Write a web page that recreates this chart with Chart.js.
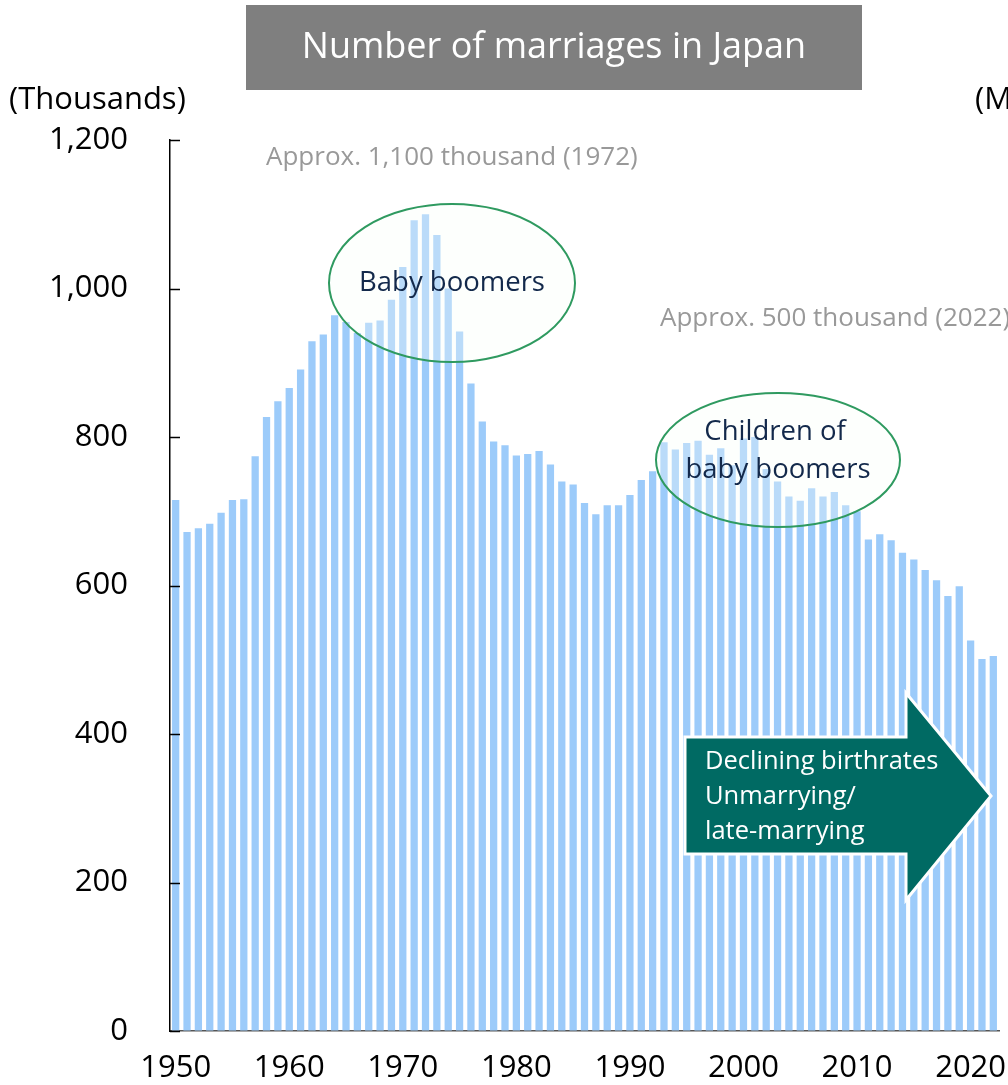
<!DOCTYPE html>
<html>
<head>
<meta charset="utf-8">
<script src="https://cdn.jsdelivr.net/npm/chart.js@4.4.1/dist/chart.umd.min.js"></script>
<style>
  html, body { margin: 0; padding: 0; background: #fff; }
  #wrap { width: 1008px; height: 1085px; }
</style>
</head>
<body>
<div id="wrap"><canvas id="c" width="1008" height="1085"></canvas></div>
<script>
// ── Dados: casamentos no Japão (milhares) ─────────────────────
const years = [
  '1950','1951','1952','1953','1954','1955','1956','1957','1958','1959',
  '1960','1961','1962','1963','1964','1965','1966','1967','1968','1969',
  '1970','1971','1972','1973','1974','1975','1976','1977','1978','1979',
  '1980','1981','1982','1983','1984','1985','1986','1987','1988','1989',
  '1990','1991','1992','1993','1994','1995','1996','1997','1998','1999',
  '2000','2001','2002','2003','2004','2005','2006','2007','2008','2009',
  '2010','2011','2012','2013','2014','2015','2016','2017','2018','2019',
  '2020','2021','2022'
];
const marriages = [
  715, 672, 677, 683, 698, 715, 716, 774, 827, 848,
  866, 891, 929, 938, 964, 955, 940, 954, 957, 985,
  1029, 1092, 1100, 1072, 1000, 942, 872, 821, 794, 789,
  775, 777, 781, 763, 740, 736, 711, 696, 708, 708,
  722, 742, 754, 793, 783, 792, 795, 776, 785, 762,
  798, 800, 757, 740, 720, 714, 731, 720, 726, 708,
  700, 662, 669, 661, 644, 635, 621, 607, 586, 599,
  526, 501, 505
];
const yTicks = [0, 200, 400, 600, 800, 1000, 1200];

const FONT = '"Open Sans", "DejaVu Sans", sans-serif';
const BAR_COLOR = '#9ccbfa';
const GREEN = '#2f9a60';
const NAVY = '#13294b';
const TEAL = '#006a63';

// ── Decorações (título, elipses, seta, notas) ─────────────────
function ellipse(ctx, cx, cy, rx, ry) {
  ctx.save();
  ctx.beginPath();
  ctx.ellipse(cx, cy, rx, ry, 0, 0, Math.PI * 2);
  ctx.fillStyle = 'rgba(250,255,250,0.32)';
  ctx.fill();
  ctx.lineWidth = 2;
  ctx.strokeStyle = GREEN;
  ctx.stroke();
  ctx.restore();
}

const decoPlugin = {
  id: 'deco',
  beforeDraw(chart) {
    const { ctx } = chart;
    ctx.save();
    // caixa do título
    ctx.fillStyle = '#7f7f7f';
    ctx.fillRect(246, 5, 616, 85);
    ctx.fillStyle = '#fff';
    ctx.font = `36px ${FONT}`;
    ctx.textAlign = 'center';
    ctx.textBaseline = 'middle';
    ctx.fillText('Number of marriages in Japan', 554, 48);
    // rótulos dos eixos
    ctx.fillStyle = '#000';
    ctx.font = `31px ${FONT}`;
    ctx.textAlign = 'left';
    ctx.fillText('(Thousands)', 9, 100);
    ctx.fillText('(Millions)', 975, 100);
    ctx.restore();
  },
  afterDatasetsDraw(chart) {
    const { ctx } = chart;
    const y = chart.scales.y;
    ctx.save();
    // marcas de tick para dentro
    ctx.strokeStyle = '#000';
    ctx.lineWidth = 1.5;
    yTicks.forEach(v => {
      const py = Math.round(y.getPixelForValue(v)) + 0.5;
      ctx.beginPath();
      ctx.moveTo(chart.chartArea.left, py);
      ctx.lineTo(chart.chartArea.left + 10, py);
      ctx.stroke();
    });

    ellipse(ctx, 452, 283, 123, 79);
    ellipse(ctx, 778, 460, 122, 67);

    ctx.fillStyle = NAVY;
    ctx.font = `27.5px ${FONT}`;
    ctx.textAlign = 'center';
    ctx.textBaseline = 'middle';
    ctx.fillText('Baby boomers', 452, 283);
    ctx.fillText('Children of', 775, 432);
    ctx.fillText('baby boomers', 778, 470);

    ctx.fillStyle = '#999';
    ctx.font = `26px ${FONT}`;
    ctx.textAlign = 'left';
    ctx.fillText('Approx. 1,100 thousand (1972)', 266, 158);
    ctx.fillText('Approx. 500 thousand (2022)', 660, 319);

    // seta
    ctx.beginPath();
    ctx.moveTo(685, 737);
    ctx.lineTo(906, 737);
    ctx.lineTo(906, 693);
    ctx.lineTo(991, 796);
    ctx.lineTo(906, 900);
    ctx.lineTo(906, 854);
    ctx.lineTo(685, 854);
    ctx.closePath();
    ctx.fillStyle = TEAL;
    ctx.fill();
    ctx.lineWidth = 3;
    ctx.strokeStyle = '#fff';
    ctx.stroke();

    ctx.fillStyle = '#fff';
    ctx.font = `25.5px ${FONT}`;
    ctx.textBaseline = 'middle';
    ctx.fillText('Declining birthrates', 705, 762);
    ctx.fillText('Unmarrying/', 705, 797);
    ctx.fillText('late-marrying', 705, 832);
    ctx.restore();
  }
};

new Chart(document.getElementById('c'), {
  type: 'bar',
  data: {
    labels: years,
    datasets: [{
      data: marriages,
      backgroundColor: BAR_COLOR,
      borderWidth: 0,
      categoryPercentage: 1,
      barPercentage: 0.64
    }]
  },
  options: {
    responsive: false,
    animation: false,
    devicePixelRatio: 1,
    layout: { padding: { left: 0, right: 9, top: 140, bottom: 0 } },
    plugins: { legend: { display: false }, tooltip: { enabled: false } },
    scales: {
      x: {
        afterFit: s => { s.height = 54; },
        // tick marks transparentes: só empurram os rótulos para baixo
        grid: { display: true, drawOnChartArea: false, drawTicks: true, tickLength: 19, tickColor: 'rgba(0,0,0,0)' },
        border: { color: '#555', width: 1.5 },
        ticks: {
          autoSkip: false,
          maxRotation: 0,
          padding: 0,
          color: '#000',
          font: { family: FONT, size: 31 },
          callback: function (val) {
            const lab = this.getLabelForValue(val);
            return Number(lab) % 10 === 0 ? lab : '';
          }
        }
      },
      y: {
        min: 0,
        max: 1200,
        afterFit: s => { s.width = 170; },
        afterBuildTicks: s => { s.ticks = yTicks.map(v => ({ value: v })); },
        grid: { display: true, drawOnChartArea: false, drawTicks: true, tickLength: 42, tickColor: 'rgba(0,0,0,0)' },
        border: { color: '#000', width: 1.5 },
        ticks: {
          padding: 0,
          color: '#000',
          font: { family: FONT, size: 31 },
          callback: v => v.toLocaleString('en-US')
        }
      }
    }
  },
  plugins: [decoPlugin]
});
</script>
</body>
</html>
